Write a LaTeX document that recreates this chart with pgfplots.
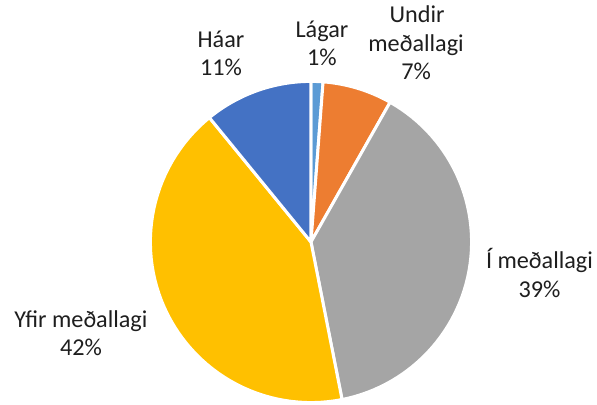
\documentclass[border=0pt]{standalone}
\usepackage{pgfplots}
\pgfplotsset{compat=1.18}
\usepackage{pgfplotstable}
\usepackage{fontspec}
\setmainfont{Carlito}
\definecolor{cLagar}{HTML}{5B9BD5}
\definecolor{cUndir}{HTML}{ED7D31}
\definecolor{cI}{HTML}{A5A5A5}
\definecolor{cYfir}{HTML}{FFC000}
\definecolor{cHaar}{HTML}{4472C4}
\definecolor{txt}{HTML}{1E1E1E}

\pgfplotstableread{
label value
Lagar 1.2
Undir 7.0
I 38.7
Yfir 42.2
Haar 10.9
}\piedata

\pgfplotstablegetelem{0}{value}\of\piedata \let\vA\pgfplotsretval
\pgfplotstablegetelem{1}{value}\of\piedata \let\vB\pgfplotsretval
\pgfplotstablegetelem{2}{value}\of\piedata \let\vC\pgfplotsretval
\pgfplotstablegetelem{3}{value}\of\piedata \let\vD\pgfplotsretval
\pgfplotstablegetelem{4}{value}\of\piedata \let\vE\pgfplotsretval
\pgfmathsetmacro{\aA}{0}
\pgfmathsetmacro{\aB}{\aA+3.6*\vA}
\pgfmathsetmacro{\aC}{\aB+3.6*\vB}
\pgfmathsetmacro{\aD}{\aC+3.6*\vC}
\pgfmathsetmacro{\aE}{\aD+3.6*\vD}
\pgfmathsetmacro{\aF}{\aE+3.6*\vE}

\tikzset{lbl/.style={font=\fontsize{24.2bp}{28.7bp}\selectfont, text=txt, anchor=base, inner sep=0pt}}
\pgfplotsset{slice/.style={draw=white, line width=3bp, line join=round, samples=60, variable=\t}}

\begin{document}
\begin{tikzpicture}
\begin{axis}[
  hide axis, scale only axis, clip=false,
  width=597bp, height=404bp,
  xmin=-1.956, xmax=1.799, ymin=-1.019, ymax=1.522,
]
\path (rel axis cs:0,0) rectangle (rel axis cs:1,1);
\addplot[slice, fill=cLagar, domain=\aA:\aB] ({1.01*sin(\t)},{1.01*cos(\t)}) -- (axis cs:0,0) -- cycle;
\addplot[slice, fill=cUndir, domain=\aB:\aC] ({1.01*sin(\t)},{1.01*cos(\t)}) -- (axis cs:0,0) -- cycle;
\addplot[slice, fill=cI, domain=\aC:\aD] ({1.01*sin(\t)},{1.01*cos(\t)}) -- (axis cs:0,0) -- cycle;
\addplot[slice, fill=cYfir, domain=\aD:\aE] ({1.01*sin(\t)},{1.01*cos(\t)}) -- (axis cs:0,0) -- cycle;
\addplot[slice, fill=cHaar, domain=\aE:\aF] ({1.01*sin(\t)},{1.01*cos(\t)}) -- (axis cs:0,0) -- cycle;

\node[lbl] at (axis cs:-0.566,1.226) {Háar};
\node[lbl] at (axis cs:-0.566,1.044) {11\%};
\node[lbl] at (axis cs:0.069,1.289) {Lágar};
\node[lbl] at (axis cs:0.069,1.113) {1\%};
\node[lbl] at (axis cs:0.667,1.378) {Undir};
\node[lbl] at (axis cs:0.661,1.198) {meðallagi};
\node[lbl] at (axis cs:0.661,1.019) {7\%};
\node[lbl] at (axis cs:1.437,-0.164) {Í meðallagi};
\node[lbl] at (axis cs:1.437,-0.352) {39\%};
\node[lbl] at (axis cs:-1.447,-0.535) {Yfir meðallagi};
\node[lbl] at (axis cs:-1.447,-0.711) {42\%};
\end{axis}
\end{tikzpicture}
\end{document}
